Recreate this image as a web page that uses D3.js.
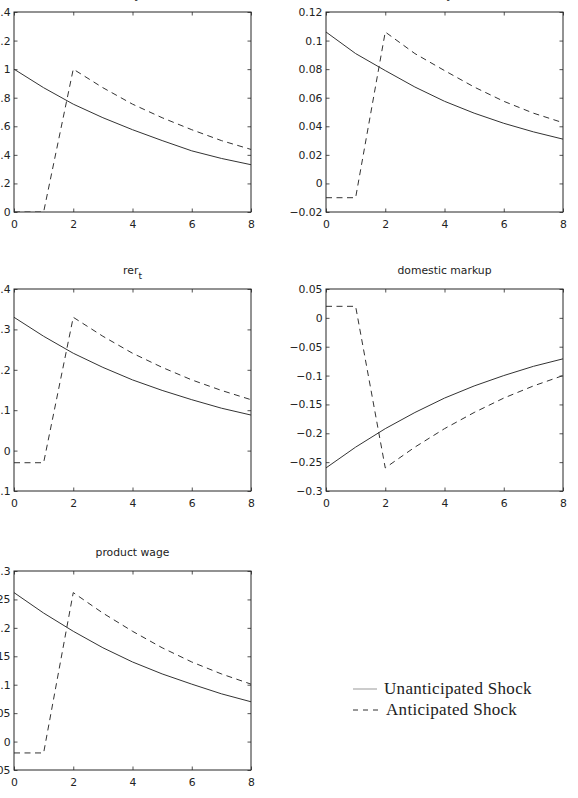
<!DOCTYPE html>
<html><head><meta charset="utf-8">
<script src="https://cdn.jsdelivr.net/npm/d3@7"></script>
<style>html,body{margin:0;padding:0;background:#fff;overflow:hidden}</style>
</head><body>
<script>
const periods = [0,1,2,3,4,5,6,7,8];

const titles = ["y", "π", "rer", "domestic markup", "product wage"];
const titleSubs = ["t", "t", "t", "", ""];

const unanticipated1 = [1.0, 0.87, 0.755, 0.66, 0.576, 0.5, 0.428, 0.375, 0.331];
const anticipated1   = [0, 0, 1.0, 0.87, 0.755, 0.66, 0.576, 0.5, 0.438];

const unanticipated2 = [0.106, 0.0909, 0.079, 0.0675, 0.0575, 0.0492, 0.0421, 0.0361, 0.031];
const anticipated2   = [-0.01, -0.01, 0.106, 0.0909, 0.079, 0.0675, 0.0575, 0.0492, 0.0425];

const unanticipated3 = [0.33, 0.283, 0.241, 0.206, 0.175, 0.149, 0.126, 0.105, 0.088];
const anticipated3   = [-0.03, -0.03, 0.33, 0.283, 0.241, 0.206, 0.175, 0.149, 0.126];

const unanticipated4 = [-0.26, -0.224, -0.192, -0.164, -0.139, -0.118, -0.100, -0.084, -0.071];
const anticipated4   = [0.02, 0.02, -0.26, -0.224, -0.192, -0.164, -0.139, -0.118, -0.100];

const unanticipated5 = [0.262, 0.226, 0.194, 0.165, 0.14, 0.119, 0.101, 0.084, 0.07];
const anticipated5   = [-0.02, -0.02, 0.262, 0.226, 0.194, 0.165, 0.14, 0.119, 0.101];

const xTicks = [0, 2, 4, 6, 8];
const yTicks1 = [0, 0.2, 0.4, 0.6, 0.8, 1, 1.2, 1.4];
const yTicks2 = [-0.02, 0, 0.02, 0.04, 0.06, 0.08, 0.1, 0.12];
const yTicks3 = [-0.1, 0, 0.1, 0.2, 0.3, 0.4];
const yTicks4 = [-0.3, -0.25, -0.2, -0.15, -0.1, -0.05, 0, 0.05];
const yTicks5 = [-0.05, 0, 0.05, 0.1, 0.15, 0.2, 0.25, 0.3];

const legendLabels = ["Unanticipated Shock", "Anticipated Shock"];

const panels = [
  {u: unanticipated1, a: anticipated1, yt: yTicks1, box: [14, 251, 12, 212]},
  {u: unanticipated2, a: anticipated2, yt: yTicks2, box: [326, 563, 12, 212]},
  {u: unanticipated3, a: anticipated3, yt: yTicks3, box: [14, 251, 289, 491]},
  {u: unanticipated4, a: anticipated4, yt: yTicks4, box: [326, 563, 289, 491]},
  {u: unanticipated5, a: anticipated5, yt: yTicks5, box: [14, 251, 571, 770]}
];

const W = 578, H = 798;
const svg = d3.select("body").append("svg").attr("width", W).attr("height", H);
const fmt = v => {
  let s = d3.format("~g")(Math.round(v*1e6)/1e6);
  return s.replace("-", "\u2212");
};
const axisColor = "#262626";
const lineColor = "#333";
const tickFont = "'DejaVu Sans', sans-serif";

panels.forEach((p, i) => {
  const [l, r, t, b] = p.box;
  const x = d3.scaleLinear().domain([0, 8]).range([l, r]);
  const y = d3.scaleLinear().domain(d3.extent(p.yt)).range([b, t]);
  const g = svg.append("g");
  const clipId = "clip" + i;
  svg.append("clipPath").attr("id", clipId).append("rect")
    .attr("x", l).attr("y", t).attr("width", r - l).attr("height", b - t);

  const tk = 3.5;
  const ax = (sel, axis) => {
    sel.call(axis);
    sel.select(".domain").remove();
    sel.selectAll("line").attr("stroke", axisColor).attr("stroke-width", 0.8);
    sel.selectAll("text").attr("fill", "#222").style("font-family", tickFont).style("font-size", "10.8px");
  };
  g.append("g").attr("transform", `translate(0,${b})`)
    .call(s => ax(s, d3.axisBottom(x).tickValues(xTicks).tickSizeInner(-tk).tickSizeOuter(0).tickPadding(8).tickFormat(fmt)));
  g.append("g").attr("transform", `translate(0,${t})`)
    .call(s => ax(s, d3.axisTop(x).tickValues(xTicks).tickSizeInner(-tk).tickSizeOuter(0).tickFormat("")));
  g.append("g").attr("transform", `translate(${l},0)`)
    .call(s => ax(s, d3.axisLeft(y).tickValues(p.yt).tickSizeInner(-tk).tickSizeOuter(0).tickPadding(3.5).tickFormat(fmt)));
  g.append("g").attr("transform", `translate(${r},0)`)
    .call(s => ax(s, d3.axisRight(y).tickValues(p.yt).tickSizeInner(-tk).tickSizeOuter(0).tickFormat("")));

  const line = d3.line().x((d, k) => x(periods[k])).y(d => y(d));
  g.append("path").datum(p.u).attr("d", line).attr("fill", "none")
    .attr("stroke", lineColor).attr("stroke-width", 1).attr("clip-path", `url(#${clipId})`);
  g.append("path").datum(p.a).attr("d", line).attr("fill", "none")
    .attr("stroke", lineColor).attr("stroke-width", 1).attr("stroke-dasharray", "6,4.5")
    .attr("clip-path", `url(#${clipId})`);

  g.append("rect").attr("x", l).attr("y", t).attr("width", r - l).attr("height", b - t)
    .attr("fill", "none").attr("stroke", axisColor).attr("stroke-width", 1);

  const tt = g.append("text").attr("x", (l + r) / 2).attr("y", i < 2 ? -4 : t - 15)
    .attr("text-anchor", "middle").attr("fill", "#222")
    .style("font-family", tickFont).style("font-size", "10.8px");
  tt.append("tspan").text(titles[i]);
  if (titleSubs[i]) tt.append("tspan").attr("dy", 4.5).style("font-size", "9px").text(titleSubs[i]);
});

// legend
const lg = svg.append("g");
const legendStyles = [{dash: null, color: "#999"}, {dash: "5,5", color: "#333"}];
legendLabels.forEach((lab, k) => {
  const yy = 689 + k * 21;
  lg.append("line").attr("x1", 353).attr("x2", k ? 381 : 377).attr("y1", yy).attr("y2", yy)
    .attr("stroke", legendStyles[k].color).attr("stroke-width", 1)
    .attr("stroke-dasharray", legendStyles[k].dash);
  lg.append("text").attr("x", k ? 386 : 384).attr("y", yy + 5)
    .attr("fill", "#222").style("font-family", "'Liberation Serif', serif")
    .style("font-size", "17px").style("letter-spacing", "0.3px").text(lab);
});
</script>
</body></html>
